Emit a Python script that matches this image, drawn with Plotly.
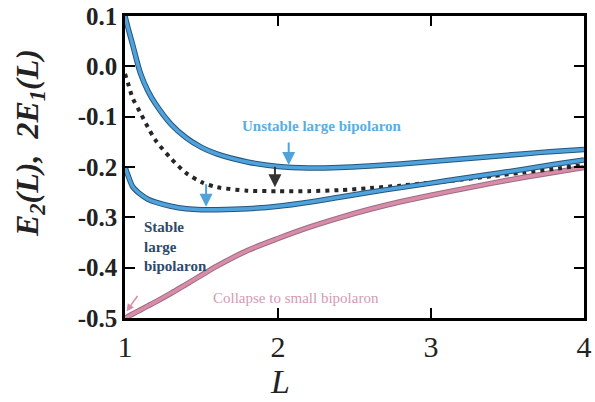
import plotly.graph_objects as go

# Data
L = [1.0, 1.02, 1.05, 1.1, 1.15, 1.2, 1.3, 1.4, 1.5, 1.6, 1.8, 2.0, 2.2, 2.4, 2.6, 2.8, 3.0, 3.2, 3.4, 3.6, 3.8, 4.0]
unstable = [0.100, 0.076, 0.043, -0.013, -0.049, -0.075, -0.115, -0.142, -0.161, -0.174, -0.190, -0.199, -0.202,
            -0.201, -0.198, -0.194, -0.189, -0.184, -0.179, -0.174, -0.169, -0.165]
stable = [-0.200, -0.217, -0.239, -0.254, -0.264, -0.270, -0.278, -0.283, -0.285, -0.285, -0.283, -0.278, -0.270,
          -0.260, -0.250, -0.241, -0.232, -0.223, -0.214, -0.205, -0.195, -0.186]
two_e1 = [-0.015, -0.034, -0.063, -0.092, -0.121, -0.147, -0.183, -0.212, -0.230, -0.240, -0.247, -0.248, -0.248,
          -0.246, -0.242, -0.237, -0.231, -0.225, -0.218, -0.211, -0.204, -0.196]
collapse = [-0.500, -0.497, -0.492, -0.484, -0.476, -0.468, -0.451, -0.433, -0.415, -0.397, -0.366, -0.342, -0.320,
            -0.301, -0.284, -0.269, -0.256, -0.244, -0.232, -0.221, -0.211, -0.201]

x_ticks = [1, 2, 3, 4]
y_ticks = [0.1, 0.0, -0.1, -0.2, -0.3, -0.4, -0.5]
y_ticktext = ["0.1", "0.0", "-0.1", "-0.2", "-0.3", "-0.4", "-0.5"]

BLUE = "#4fa3da"
BLUE_EDGE = "#24557f"
PINK = "#d88ca9"
PINK_EDGE = "#9c6d80"

fig = go.Figure()

fig.add_trace(go.Scatter(x=L, y=collapse, mode="lines", line=dict(color=PINK_EDGE, width=5.5, shape="spline", smoothing=0.8), hoverinfo="skip"))
fig.add_trace(go.Scatter(x=L, y=collapse, mode="lines", line=dict(color=PINK, width=3.5, shape="spline", smoothing=0.8)))
fig.add_trace(go.Scatter(x=L, y=two_e1, mode="lines", line=dict(color="#262626", width=4, dash="4px,5px", shape="spline", smoothing=0.8)))
for series in (unstable, stable):
    fig.add_trace(go.Scatter(x=L, y=series, mode="lines", line=dict(color=BLUE_EDGE, width=5.5, shape="spline", smoothing=0.8), hoverinfo="skip"))
    fig.add_trace(go.Scatter(x=L, y=series, mode="lines", line=dict(color=BLUE, width=3.5, shape="spline", smoothing=0.8)))

serif = "Liberation Serif"

ann = [
    dict(x=2.29, y=-0.118, text="<b>Unstable large bipolaron</b>", showarrow=False,
         font=dict(family=serif, size=15, color="#5aaee0")),
    dict(x=1.11, y=-0.357, text="<b>Stable<br>large<br>bipolaron</b>", showarrow=False, xanchor="left", align="left",
         font=dict(family=serif, size=15, color="#2c4a6b")),
    dict(x=2.12, y=-0.461, text="Collapse to small bipolaron", showarrow=False,
         font=dict(family=serif, size=15, color="#d39ab3")),
    # arrows
    dict(x=2.07, y=-0.196, ax=0, ay=-24, showarrow=True, arrowhead=2, arrowsize=1.3, arrowwidth=2, arrowcolor=BLUE, text=""),
    dict(x=1.98, y=-0.240, ax=0, ay=-22, showarrow=True, arrowhead=2, arrowsize=1.3, arrowwidth=2, arrowcolor="#333333", text=""),
    dict(x=1.53, y=-0.279, ax=0, ay=-24, showarrow=True, arrowhead=2, arrowsize=1.3, arrowwidth=2, arrowcolor=BLUE, text=""),
    dict(x=1.01, y=-0.487, ax=12, ay=-17, showarrow=True, arrowhead=2, arrowsize=1.0, arrowwidth=1.5, arrowcolor=PINK, text=""),
    # axis titles
    dict(xref="paper", yref="paper", x=-0.208, y=0.578, xanchor="center", yanchor="middle", textangle=-90, showarrow=False,
         text="<b><i>E<sub>2</sub>(L),  2E<sub>1</sub>(L)</i></b>", font=dict(family=serif, size=32, color="#222")),
    dict(xref="paper", yref="paper", x=0.338, y=-0.209, xanchor="center", yanchor="middle", showarrow=False,
         text="<i>L</i>", font=dict(family=serif, size=34, color="#222")),
]

fig.update_layout(
    width=595, height=402,
    margin=dict(l=125, r=3, t=12, b=84),
    paper_bgcolor="white", plot_bgcolor="white",
    showlegend=False,
    annotations=ann,
    xaxis=dict(range=[1, 4], tickvals=x_ticks, ticks="inside", ticklen=10, tickwidth=2, tickcolor="black",
               showline=True, linewidth=2.5, linecolor="black", mirror="ticks", showgrid=False, zeroline=False,
               ticklabeloverflow="allow",
               tickfont=dict(family=serif, size=30, color="#222")),
    yaxis=dict(range=[-0.5, 0.1], tickvals=y_ticks, ticktext=["<b>%s</b>" % t for t in y_ticktext],
               ticks="inside", ticklen=10, tickwidth=2, tickcolor="black", ticklabeloverflow="allow",
               showline=True, linewidth=2.5, linecolor="black", mirror="ticks", showgrid=False, zeroline=False,
               tickfont=dict(family=serif, size=25, color="#222")),
)

fig.write_html("out.html")
